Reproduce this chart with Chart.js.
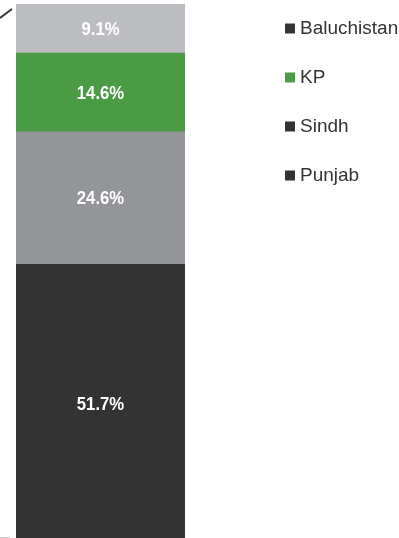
<!DOCTYPE html>
<html>
<head>
<meta charset="utf-8">
<script src="https://cdn.jsdelivr.net/npm/chart.js@4/dist/chart.umd.min.js"></script>
<style>
  html, body { margin: 0; padding: 0; background: #ffffff; overflow: hidden; }
  #wrap { position: relative; width: 399px; height: 543px; }
</style>
</head>
<body>
<div id="wrap"><canvas id="chart"></canvas></div>
<script>
// Provincial shares, stacked bottom to top
const categories = ['Share'];
const regions = ['Punjab', 'Sindh', 'KP', 'Baluchistan'];
const shares = [51.7, 24.6, 14.6, 9.1];
const barColors = ['#333333', '#939598', '#4b9b45', '#bcbdc1'];
const legendColors = ['#333333', '#333333', '#4b9b45', '#333333'];

const FONT = '"Liberation Sans", Arial, Helvetica, sans-serif';

// Percentage written in the middle of each segment (slightly condensed bold face)
const valueLabels = {
  id: 'valueLabels',
  afterDatasetsDraw(chart) {
    const { ctx } = chart;
    const squeeze = 0.88;
    ctx.save();
    ctx.font = 'bold 19px ' + FONT;
    ctx.fillStyle = '#ffffff';
    ctx.textAlign = 'center';
    ctx.textBaseline = 'middle';
    chart.data.datasets.forEach((ds, i) => {
      chart.getDatasetMeta(i).data.forEach((bar, j) => {
        const { x, y, base } = bar.getProps(['x', 'y', 'base'], true);
        ctx.save();
        ctx.translate(x, (y + base) / 2 + 1);
        ctx.scale(squeeze, 1);
        ctx.fillText(ds.data[j].toFixed(1) + '%', 0, 0);
        ctx.restore();
      });
    });
    ctx.restore();
  }
};

// Small axis-break stroke and baseline stub at the left edge
const edgeMarks = {
  id: 'edgeMarks',
  afterDraw(chart) {
    const { ctx, chartArea: a } = chart;
    ctx.save();
    ctx.strokeStyle = '#333333';
    ctx.lineWidth = 2;
    ctx.beginPath();
    ctx.moveTo(a.left - 16, a.top + 14);
    ctx.lineTo(a.left - 4, a.top + 5);
    ctx.stroke();
    ctx.strokeStyle = '#c8c8c8';
    ctx.lineWidth = 1;
    ctx.beginPath();
    ctx.moveTo(a.left - 16, a.bottom - 5.5);
    ctx.lineTo(a.left - 6, a.bottom - 5.5);
    ctx.stroke();
    ctx.restore();
  }
};

new Chart(document.getElementById('chart'), {
  type: 'bar',
  data: {
    labels: categories,
    datasets: regions.map((r, i) => ({
      label: r,
      data: [shares[i]],
      backgroundColor: barColors[i],
      borderWidth: 0,
      categoryPercentage: 1,
      barPercentage: 1
    }))
  },
  options: {
    responsive: true,
    maintainAspectRatio: false,
    animation: false,
    layout: { padding: { left: 16, top: 4, right: 0, bottom: 0 } },
    scales: {
      x: { display: false, stacked: true },
      y: {
        stacked: true,
        min: 0,
        max: 100,
        position: 'right',
        ticks: { display: false },
        grid: { display: false },
        border: { display: false },
        afterFit(scale) { scale.width = 89.5; }
      }
    },
    plugins: {
      tooltip: { enabled: false },
      legend: {
        position: 'right',
        align: 'start',
        maxWidth: 124.5,
        labels: {
          usePointStyle: true,
          pointStyle: 'rect',
          boxWidth: 1,
          boxHeight: 10,
          padding: 15,
          color: '#333333',
          font: { family: FONT, size: 19, lineHeight: '34px' },
          generateLabels(chart) {
            return chart.data.datasets.map((ds, i) => ({
              text: [ds.label],
              fillStyle: legendColors[i],
              strokeStyle: legendColors[i],
              lineWidth: 0,
              pointStyle: 'rect',
              hidden: false,
              datasetIndex: i,
              fontColor: '#333333'
            })).reverse();
          }
        }
      }
    }
  },
  plugins: [valueLabels, edgeMarks]
});
</script>
</body>
</html>
